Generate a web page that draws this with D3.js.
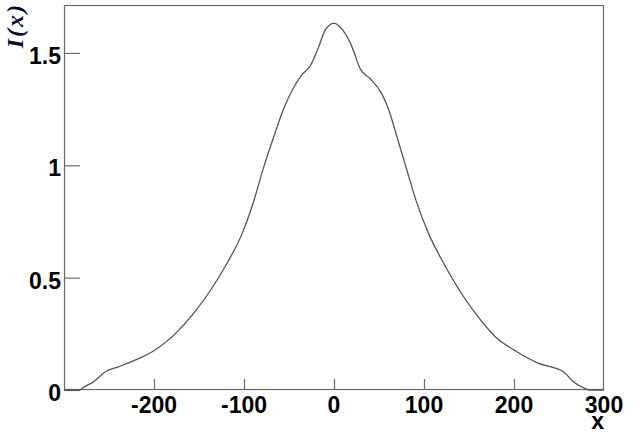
<!DOCTYPE html>
<html><head><meta charset="utf-8">
<script src="https://cdn.jsdelivr.net/npm/d3@7"></script>
<style>body{margin:0;background:#fff}svg{display:block}</style>
</head><body>
<svg id="c" width="640" height="433"></svg>
<script>
const xValues = [-300,-282,-280,-267,-254,-239,-221,-202,-176,-156,-137,-119,-102,-90,-78,-67,-56,-45,-36,-26,-17,-10,0,10,20,29,40,53,61,70,81,91,105,122,144,163,181,200,226,255,266,281,283,300];
const yValues = [0,0,0.007,0.037,0.081,0.104,0.133,0.170,0.252,0.341,0.445,0.563,0.697,0.83,0.993,1.126,1.25,1.345,1.401,1.445,1.527,1.60,1.633,1.60,1.527,1.43,1.386,1.319,1.245,1.126,0.978,0.845,0.697,0.563,0.415,0.311,0.230,0.178,0.121,0.081,0.037,0.003,0,0];
const xMajorTicks = [-200,-100,0,100,200,300];
const xTickLabels = ["-200","-100","0","100","200","300"];
const yMajorTicks = [0,0.5,1,1.5];
const yTickLabels = ["0","0.5","1","1.5"];
const xTitle = "x";
const yTitle = "I(x)";

const L = 64, R = 604, T = 5, B = 390;
const svg = d3.select("#c");
const x = d3.scaleLinear().domain([-300,300]).range([L,R]);
const y = d3.scaleLinear().domain([0,1.7133]).range([B,T]);
const axisColor = "#6b6b6b";

// frame
svg.append("rect").attr("x",L+0.5).attr("y",T+0.5).attr("width",R-L-1).attr("height",B-T-1)
  .attr("fill","none").attr("stroke",axisColor).attr("stroke-width",1.2);

// x axis ticks (inward)
const xMinor = d3.range(-280,300,20);
const gx = svg.append("g").attr("transform",`translate(0,${B})`);
gx.call(d3.axisTop(x).tickValues(xMinor).tickSize(6).tickFormat("")).call(g=>g.select(".domain").remove());
gx.call(d3.axisTop(x).tickValues(xMajorTicks.filter(v=>v<300)).tickSize(11).tickFormat("")).call(g=>g.select(".domain").remove());
gx.selectAll("line").attr("stroke",axisColor).attr("stroke-width",1.2);
svg.append("g").selectAll("text").data(xMajorTicks).join("text")
  .attr("x",(d)=>x(d)).attr("y",B+23).attr("text-anchor","middle")
  .attr("font-family","Liberation Sans, Arial, sans-serif").attr("font-weight","bold").attr("font-size",23)
  .attr("fill","#000").text((d,i)=>xTickLabels[i]);

// y axis ticks
const yMinor = d3.range(0,1.75,0.1).map(v=>+v.toFixed(2));
const gy = svg.append("g").attr("transform",`translate(${L},0)`);
gy.call(d3.axisRight(y).tickValues(yMinor).tickSize(9).tickFormat("")).call(g=>g.select(".domain").remove());
gy.call(d3.axisRight(y).tickValues(yMajorTicks).tickSize(16).tickFormat("")).call(g=>g.select(".domain").remove());
gy.selectAll("line").attr("stroke",axisColor).attr("stroke-width",1.2);
svg.append("g").selectAll("text").data(yMajorTicks).join("text")
  .attr("x",L-3).attr("y",(d)=>y(d)+11).attr("text-anchor","end")
  .attr("font-family","Liberation Sans, Arial, sans-serif").attr("font-weight","bold").attr("font-size",23)
  .attr("fill","#000").text((d,i)=>yTickLabels[i]);

// titles
svg.append("text").attr("x",R).attr("y",429).attr("text-anchor","end")
  .attr("font-family","Liberation Sans, Arial, sans-serif").attr("font-weight","bold").attr("font-size",23)
  .attr("fill","#000").text(xTitle);
svg.append("text").attr("transform","translate(23,3) rotate(-90)").attr("text-anchor","end")
  .attr("font-family","Liberation Serif, Times New Roman, serif").attr("font-style","italic").attr("font-weight","bold")
  .attr("font-size",24).attr("letter-spacing",2).attr("fill","#0a1030").text(yTitle);

// curve
const data = xValues.map((v,i)=>[v,yValues[i]]);
svg.append("path").datum(data)
  .attr("d",d3.line().x(d=>x(d[0])).y(d=>y(d[1])).curve(d3.curveMonotoneX))
  .attr("fill","none").attr("stroke","#555").attr("stroke-width",1.3);
</script>
</body></html>
